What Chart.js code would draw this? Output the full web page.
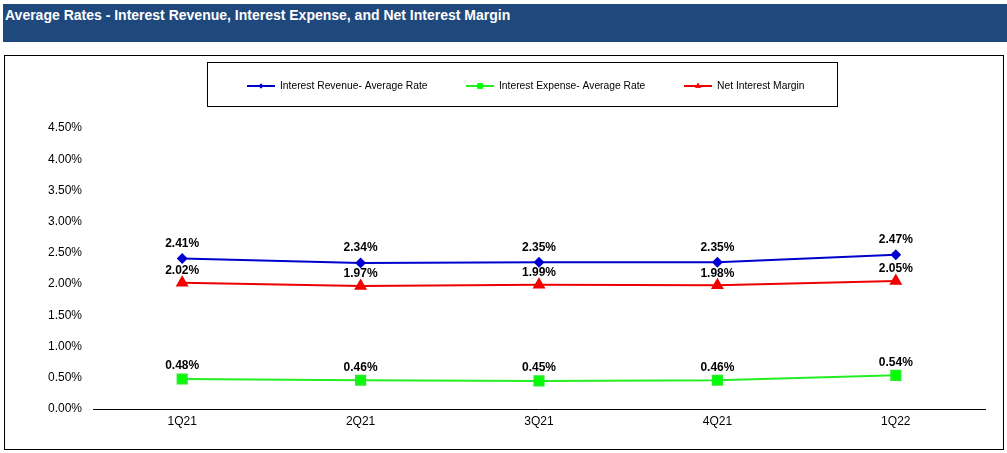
<!DOCTYPE html>
<html>
<head>
<meta charset="utf-8">
<script src="https://cdn.jsdelivr.net/npm/chart.js@4.4.1/dist/chart.umd.min.js"></script>
<style>
  html, body { margin: 0; padding: 0; background: #fff; }
  body { width: 1007px; height: 453px; position: relative; overflow: hidden; font-family: "Liberation Sans", Arial, sans-serif; }
  #header { position: absolute; left: 3px; top: 4px; width: 1004px; height: 38px; background: #1f497d; }
  #header span { position: absolute; left: 2px; top: 3px; color: #fff; font-weight: bold; font-size: 14px; }
  #frame { position: absolute; left: 4px; top: 55px; width: 998px; height: 393px; border: 1px solid #000; }
  #chart { position: absolute; left: 0; top: 0; }
</style>
</head>
<body>
<div id="header"><span>Average Rates - Interest Revenue, Interest Expense, and Net Interest Margin</span></div>
<div id="frame"></div>
<canvas id="chart" width="1007" height="453"></canvas>
<script>
// datos
const quarters = ["1Q21", "2Q21", "3Q21", "4Q21", "1Q22"];
const revenueRate = [2.41, 2.34, 2.35, 2.35, 2.47];
const expenseRate = [0.48, 0.46, 0.45, 0.46, 0.54];
const netMargin = [2.02, 1.97, 1.99, 1.98, 2.05];
const yTicks = [0, 0.5, 1, 1.5, 2, 2.5, 3, 3.5, 4, 4.5];

const FONT = '"Liberation Sans", Arial, sans-serif';

// etiquetas de valor encima de cada punto
const valueLabels = {
  id: "valueLabels",
  afterDatasetsDraw(chart) {
    const ctx = chart.ctx;
    ctx.save();
    ctx.font = "bold 12px " + FONT;
    ctx.fillStyle = "#000";
    ctx.textAlign = "center";
    ctx.textBaseline = "middle";
    chart.data.datasets.forEach((ds, i) => {
      chart.getDatasetMeta(i).data.forEach((pt, j) => {
        ctx.fillText(ds.data[j].toFixed(2) + "%", pt.x, pt.y - ds.labelOffset);
      });
    });
    ctx.restore();
  }
};

// leyenda con recuadro, estilo Excel
const boxLegend = {
  id: "boxLegend",
  afterDraw(chart) {
    const ctx = chart.ctx;
    ctx.save();
    ctx.strokeStyle = "#000";
    ctx.lineWidth = 1;
    ctx.strokeRect(207.5, 62.5, 630, 44);
    const starts = [247, 466, 684];
    ctx.font = "10.3px " + FONT;
    ctx.textBaseline = "middle";
    ctx.textAlign = "left";
    chart.data.datasets.forEach((ds, i) => {
      const x = starts[i], y = 86;
      ctx.strokeStyle = ds.borderColor;
      ctx.lineWidth = 2;
      ctx.beginPath();
      ctx.moveTo(x, y);
      ctx.lineTo(x + 28, y);
      ctx.stroke();
      ctx.fillStyle = ds.backgroundColor;
      Chart.helpers.drawPoint(ctx, { pointStyle: ds.pointStyle, radius: ds.pointRadius * 0.6, borderWidth: 0 }, x + 14, y);
      ctx.fill();
      ctx.fillStyle = "#000";
      ctx.fillText(ds.label, x + 33, y);
    });
    ctx.restore();
  }
};

new Chart(document.getElementById("chart"), {
  type: "line",
  data: {
    labels: quarters,
    datasets: [
      {
        label: "Interest Revenue- Average Rate",
        data: revenueRate,
        borderColor: "#0000cc",
        backgroundColor: "#0000dd",
        pointStyle: "rectRot",
        pointRadius: 4,
        borderWidth: 2,
        labelOffset: 15
      },
      {
        label: "Interest Expense- Average Rate",
        data: expenseRate,
        borderColor: "#22ee22",
        backgroundColor: "#00ff00",
        pointStyle: "rect",
        pointRadius: 6.5,
        borderWidth: 2,
        labelOffset: 13
      },
      {
        label: "Net Interest Margin",
        data: netMargin,
        borderColor: "#ee0000",
        backgroundColor: "#ff0000",
        pointStyle: "triangle",
        pointRadius: 5.5,
        borderWidth: 2,
        labelOffset: 12
      }
    ]
  },
  options: {
    responsive: false,
    animation: false,
    devicePixelRatio: 1,
    layout: { padding: { top: 128, right: 22, bottom: 0, left: 0 } },
    plugins: {
      legend: { display: false },
      tooltip: { enabled: false }
    },
    elements: { line: { tension: 0 }, point: { borderWidth: 0 } },
    scales: {
      x: {
        offset: true,
        grid: { display: false, drawTicks: false },
        border: { display: true, color: "#000", width: 1 },
        ticks: { color: "#000", font: { size: 12, family: FONT }, padding: 5 },
        afterFit(scale) { scale.height = 44; }
      },
      y: {
        min: 0,
        max: 4.5,
        grid: { display: false, drawTicks: false },
        border: { display: false },
        afterBuildTicks(scale) { scale.ticks = yTicks.map(v => ({ value: v })); },
        ticks: {
          color: "#000",
          font: { size: 12, family: FONT },
          padding: 11,
          callback: v => v.toFixed(2) + "%"
        },
        afterFit(scale) { scale.width = 93; }
      }
    }
  },
  plugins: [valueLabels, boxLegend]
});
</script>
</body>
</html>
